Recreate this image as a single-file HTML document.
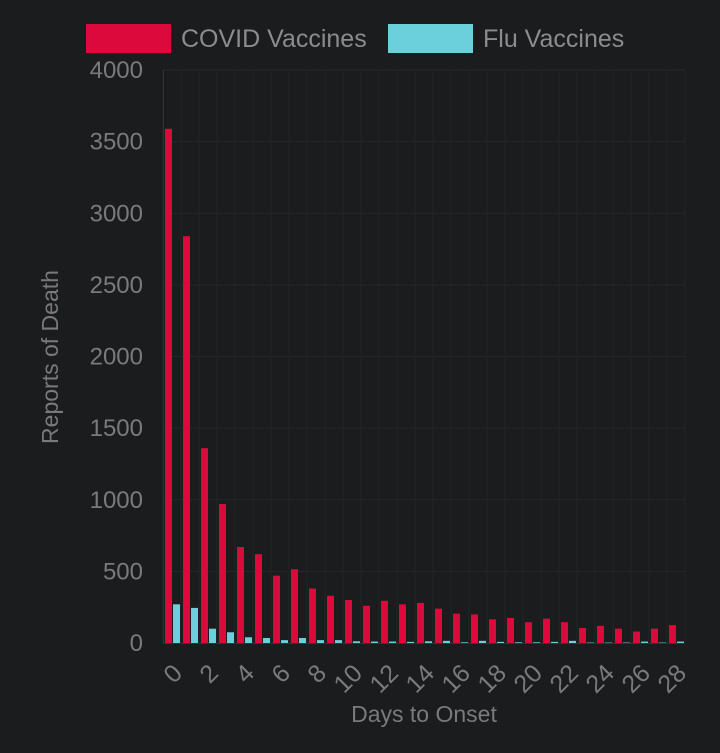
<!DOCTYPE html>
<html><head><meta charset="utf-8"><style>
html,body{margin:0;padding:0;background:#1b1c1e;}
svg{display:block;font-family:"Liberation Sans",sans-serif;}
</style></head><body>
<svg id="chart" width="720" height="753" viewBox="0 0 720 753">
<rect x="0" y="0" width="720" height="753" fill="#1b1c1e"/>
<g>
<rect x="86" y="24" width="85" height="29" fill="#dc0a3c"/>
<text x="181" y="47" font-size="25" fill="#8c8c8c">COVID Vaccines</text>
<rect x="388" y="24" width="85" height="29" fill="#6ccfdc"/>
<text x="483" y="47" font-size="25" fill="#8c8c8c">Flu Vaccines</text>
</g>
<g id="grid"></g><g id="bars"></g><g id="axes"></g>
<text transform="translate(58,357) rotate(-90)" text-anchor="middle" font-size="23" fill="#7a7a7a">Reports of Death</text>
<text x="424" y="722" text-anchor="middle" font-size="23" fill="#7a7a7a">Days to Onset</text>
</svg>
<script>
const categories=[0,1,2,3,4,5,6,7,8,9,10,11,12,13,14,15,16,17,18,19,20,21,22,23,24,25,26,27,28];
const covidValues=[3590,2840,1360,970,670,620,470,515,380,330,300,260,295,270,280,240,205,200,165,175,145,170,145,105,120,100,80,100,125];
const fluValues=[270,245,100,75,40,35,20,35,20,20,12,10,10,8,12,15,5,15,8,5,5,8,15,3,3,3,10,3,10];
const yTicks=[0,500,1000,1500,2000,2500,3000,3500,4000];
const NS="http://www.w3.org/2000/svg";
const x0=163,x1=685,y0=643,yTop=70,yMax=4000;
const step=(x1-x0)/categories.length;
function xPos(i){return x0+i*step;}
function yPos(v){return y0-(v/yMax)*(y0-yTop);}
function mk(tag,attrs,parent){const e=document.createElementNS(NS,tag);for(const k in attrs)e.setAttribute(k,attrs[k]);parent.appendChild(e);return e;}
const grid=document.getElementById('grid'),bars=document.getElementById('bars'),axes=document.getElementById('axes');
yTicks.forEach(t=>{
 const l=mk('line',{x1:x0,x2:x1,y1:yPos(t),y2:yPos(t),stroke:'#26272a','stroke-width':1},grid);
 
 
 const tx=mk('text',{x:143,y:yPos(t)+8,'text-anchor':'end','font-size':24,fill:'#7a7a7a'},axes);
 tx.textContent=t;
 
 
});
for(let i=0;i<=categories.length;i++){
 const l=mk('line',{x1:xPos(i),x2:xPos(i),y1:yTop,y2:y0,stroke:'#222326','stroke-width':1},grid);
 
 
}
categories.forEach((c,i)=>{
 const bx=xPos(i)+2;
 const r=mk('rect',{x:bx,y:yPos(covidValues[i]),width:7,height:y0-yPos(covidValues[i]),fill:'#dc0a3c'},bars);
 
 
 const b=mk('rect',{x:bx+8,y:yPos(fluValues[i]),width:7,height:y0-yPos(fluValues[i]),fill:'#6ccfdc'},bars);
 
 
 if(c%2===0){
  const cx=xPos(i)+15,cy=y0+26;
  const t=mk('text',{x:cx,y:cy,'text-anchor':'end','font-size':25,fill:'#7a7a7a','dominant-baseline':'central',transform:'rotate(-45 '+cx+' '+cy+')'},axes);
  t.textContent=c;
  
  
 }
});
const ax=mk('line',{x1:x0,x2:x1,y1:y0+0.5,y2:y0+0.5,stroke:'#333','stroke-width':1},axes);


const ay=mk('line',{x1:x0+0.5,x2:x0+0.5,y1:yTop,y2:y0,stroke:'#333','stroke-width':1},axes);


</script>
</body></html>
